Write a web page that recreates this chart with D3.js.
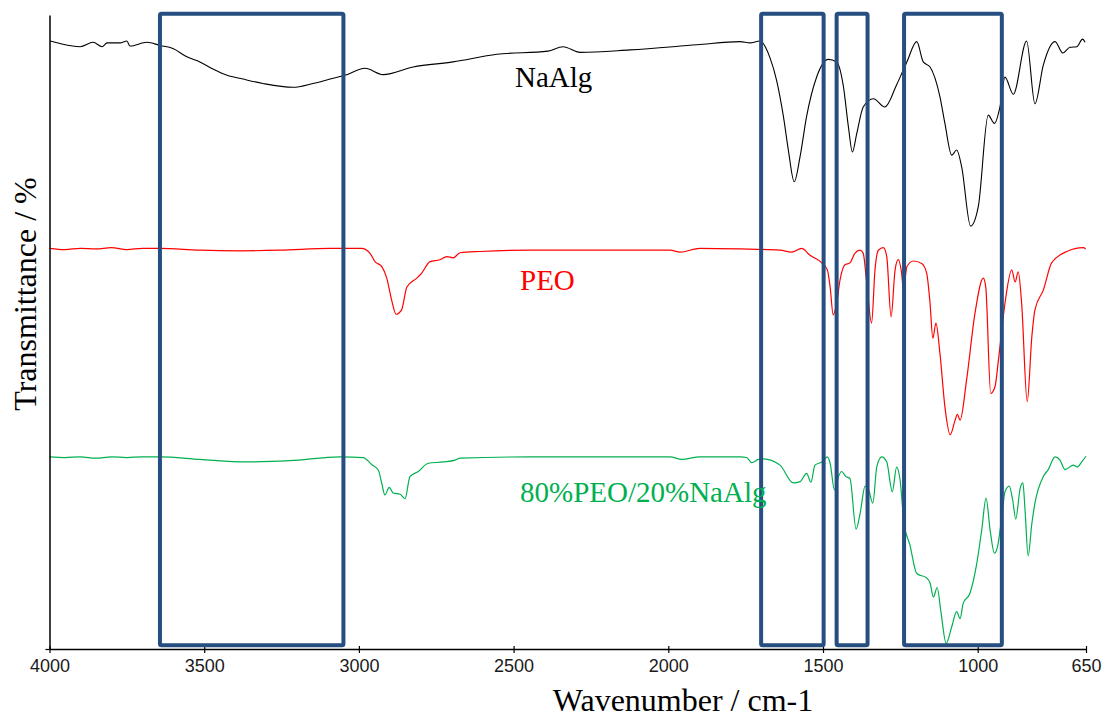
<!DOCTYPE html>
<html>
<head>
<meta charset="utf-8">
<script src="https://cdn.jsdelivr.net/npm/d3@7"></script>
<style>
  html, body { margin: 0; padding: 0; background: #ffffff; }
  svg { display: block; }
</style>
</head>
<body>
<svg id="chart" width="1113" height="718"></svg>
<script>
// ---------- DATA ----------
const xTicks = [4000, 3500, 3000, 2500, 2000, 1500, 1000, 650];
const seriesNames = ["NaAlg", "PEO", "80%PEO/20%NaAlg"];

const naalgWn = [3998,3966,3901,3859,3830,3814,3772,3750,3740,3685,3643,3601,3556,3514,3472,3426,3375,3310,3213,3148,3093,3045,2980,2922,2825,2696,2554,2389,2340,2285,2124,1907,1768,1736,1704,1671,1650,1628,1612,1593,1574,1553,1520,1483,1456,1434,1418,1405,1391,1370,1337,1300,1262,1229,1197,1176,1154,1122,1106,1084,1068,1052,1023,998,966,946,928,912,885,842,815,788,750,725,702,680,661,653];
const naalgT  = [95.9,95.5,95.0,95.7,95.0,95.6,95.6,95.9,95.1,95.7,95.2,94.7,93.4,92.6,91.5,90.5,89.9,89.2,88.6,89.2,89.9,90.5,91.6,90.6,91.8,92.6,93.8,94.3,95.0,94.1,94.5,95.3,95.8,95.6,95.9,93.2,89.7,84.0,78.7,73.7,77.7,84.0,90.3,93.0,92.6,88.7,82.4,78.4,81.3,85.5,86.8,85.5,89.0,92.6,95.8,92.6,91.8,87.1,82.9,77.9,78.7,76.1,66.7,69.8,84.2,82.9,85.5,90.2,87.5,95.9,86.0,92.1,95.8,94.0,94.9,95.0,96.2,95.7];

const peoWn = [4000,3950,3900,3850,3800,3750,3700,3643,3514,3384,3255,3093,2991,2964,2948,2926,2910,2894,2880,2862,2845,2813,2797,2770,2738,2716,2695,2673,2609,2447,2221,1994,1962,1898,1768,1639,1601,1569,1542,1504,1486,1477,1467,1456,1445,1429,1413,1397,1380,1370,1359,1343,1332,1321,1305,1294,1280,1267,1257,1246,1240,1229,1208,1181,1165,1154,1145,1135,1122,1106,1089,1073,1066,1057,1036,1009,982,974,958,944,933,912,890,879,869,858,840,825,815,788,761,712,659,651];
const peoT  = [63.2,63.0,63.2,63.1,63.3,63.0,63.2,63.2,62.9,62.8,62.9,63.2,63.2,62.4,61.1,60.3,58.5,55.0,52.8,53.5,57.1,58.5,59.3,61.1,61.4,61.9,61.7,62.5,62.7,62.9,62.9,62.9,62.6,63.2,63.1,62.9,62.6,63.2,62.1,60.9,59.8,57.1,52.7,54.5,58.2,60.6,60.9,62.4,62.9,62.4,57.9,51.4,59.8,62.9,63.3,61.9,52.4,59.8,61.4,59.3,56.6,60.3,61.2,60.8,59.3,54.5,49.0,51.4,46.6,38.2,33.8,36.1,37.0,36.1,42.4,52.9,58.5,57.1,40.3,41.4,45.6,54.5,59.8,57.9,59.5,54.5,39.0,49.3,53.5,56.6,60.9,62.7,63.3,63.1];

const blendWn = [4000,3950,3900,3850,3800,3750,3700,3643,3514,3362,3223,3061,2986,2959,2937,2926,2916,2902,2889,2867,2851,2835,2808,2776,2727,2689,2673,2447,2221,1994,1957,1898,1768,1747,1730,1709,1693,1639,1596,1574,1553,1539,1526,1504,1486,1477,1463,1450,1440,1426,1413,1393,1380,1364,1354,1339,1326,1310,1294,1276,1262,1251,1238,1219,1197,1165,1154,1143,1131,1119,1102,1084,1068,1057,1047,1025,1003,987,973,960,946,937,922,912,898,887,877,863,854,847,837,825,815,788,772,750,734,718,691,678,664,650];
const blendT  = [30.3,30.2,30.3,30.1,30.3,30.2,30.3,30.3,29.9,29.5,29.7,30.3,30.2,29.1,28.2,26.1,24.3,25.5,24.6,24.4,23.7,27.2,28.0,29.3,29.5,29.8,30.1,30.3,30.3,30.3,29.9,30.3,30.3,30.2,29.4,29.9,30.0,29.0,26.2,26.4,27.7,26.3,29.0,29.5,30.3,29.3,25.1,27.2,28.0,27.2,26.9,18.9,21.4,25.7,25.3,23.0,28.8,30.3,29.5,24.8,28.7,26.7,19.8,16.4,11.9,11.2,10.4,8.2,9.7,5.9,0.9,3.5,5.9,4.8,7.2,8.8,13.5,18.8,23.8,18.8,15.1,15.9,20.9,24.8,25.7,23.5,20.5,25.3,26.2,21.9,14.7,19.8,23.0,27.2,28.3,30.3,29.8,28.3,29.0,28.7,29.5,30.4];

// highlighted wavenumber regions (from, to)
const boxFrom = [3643, 1700, 1456, 1238];
const boxTo   = [3050, 1498, 1356, 922];

// ---------- DRAW ----------
const svg = d3.select("#chart");
const x = d3.scaleLinear().domain([4000, 650]).range([49.5, 1086]);
const y = d3.scaleLinear().domain([0, 100]).range([649, 15]);

const series = [
  { name: seriesNames[0], wn: naalgWn, t: naalgT, color: "#000000", lw: 1.1 },
  { name: seriesNames[1], wn: peoWn,   t: peoT,   color: "#ff0000", lw: 1.2 },
  { name: seriesNames[2], wn: blendWn, t: blendT, color: "#00b050", lw: 1.2 }
];

const line = d3.line()
  .x(d => x(d[0]))
  .y(d => y(d[1]))
  .curve(d3.curveMonotoneX);

series.forEach(s => {
  const pts = s.wn.map((w, i) => [w, s.t[i]]);
  svg.append("path")
    .datum(pts)
    .attr("fill", "none")
    .attr("stroke", s.color)
    .attr("stroke-width", s.lw)
    .attr("stroke-linejoin", "round")
    .attr("d", line);
});

// Axes
const xAxis = d3.axisBottom(x).tickValues(xTicks).tickSize(4).tickSizeOuter(0).tickFormat(d3.format("d"));
const gx = svg.append("g").attr("transform", "translate(0,649)").call(xAxis);
gx.select(".domain").attr("stroke", "#000").attr("stroke-width", 1.3);
gx.selectAll(".tick line").attr("stroke", "#000").attr("stroke-width", 1.2).attr("y1", -3);
gx.selectAll(".tick text")
  .attr("y", 10)
  .attr("dy", "0.71em")
  .attr("fill", "#1a1a1a")
  .style("font-family", "'Liberation Sans', Arial, sans-serif")
  .style("font-size", "18px");

const yAxis = d3.axisLeft(y).tickValues([0]).tickSize(4).tickSizeOuter(0).tickFormat("");
const gy = svg.append("g").attr("transform", "translate(49.5,0)").call(yAxis);
gy.select(".domain").attr("stroke", "#000").attr("stroke-width", 1.5);
gy.selectAll(".tick line").attr("stroke", "#000").attr("stroke-width", 1.2);

// Highlight boxes
boxFrom.forEach((b, i) => {
  const x0 = x(b), x1 = x(boxTo[i]);
  svg.append("rect")
    .attr("x", x0).attr("y", y(100.2))
    .attr("width", x1 - x0).attr("height", y(0.6) - y(100.2))
    .attr("rx", 1.5)
    .attr("fill", "none")
    .attr("stroke", "#264e80")
    .attr("stroke-width", 4);
});

// Series labels
const labelPos = [[515, 87], [520, 290], [520, 502]];
series.forEach((s, i) => {
  svg.append("text")
    .attr("x", labelPos[i][0]).attr("y", labelPos[i][1])
    .attr("fill", s.color)
    .style("font-family", "'Liberation Serif', 'Times New Roman', serif")
    .style("font-size", "29px")
    .text(s.name);
});

// Axis titles
svg.append("text")
  .attr("x", 683).attr("y", 711)
  .attr("text-anchor", "middle")
  .attr("fill", "#000")
  .style("font-family", "'Liberation Serif', 'Times New Roman', serif")
  .style("font-size", "32px")
  .text("Wavenumber / cm-1");

svg.append("text")
  .attr("transform", "translate(36,294) rotate(-90)")
  .attr("text-anchor", "middle")
  .attr("fill", "#000")
  .style("font-family", "'Liberation Serif', 'Times New Roman', serif")
  .style("font-size", "32px")
  .text("Transmittance / %");
</script>
</body>
</html>
